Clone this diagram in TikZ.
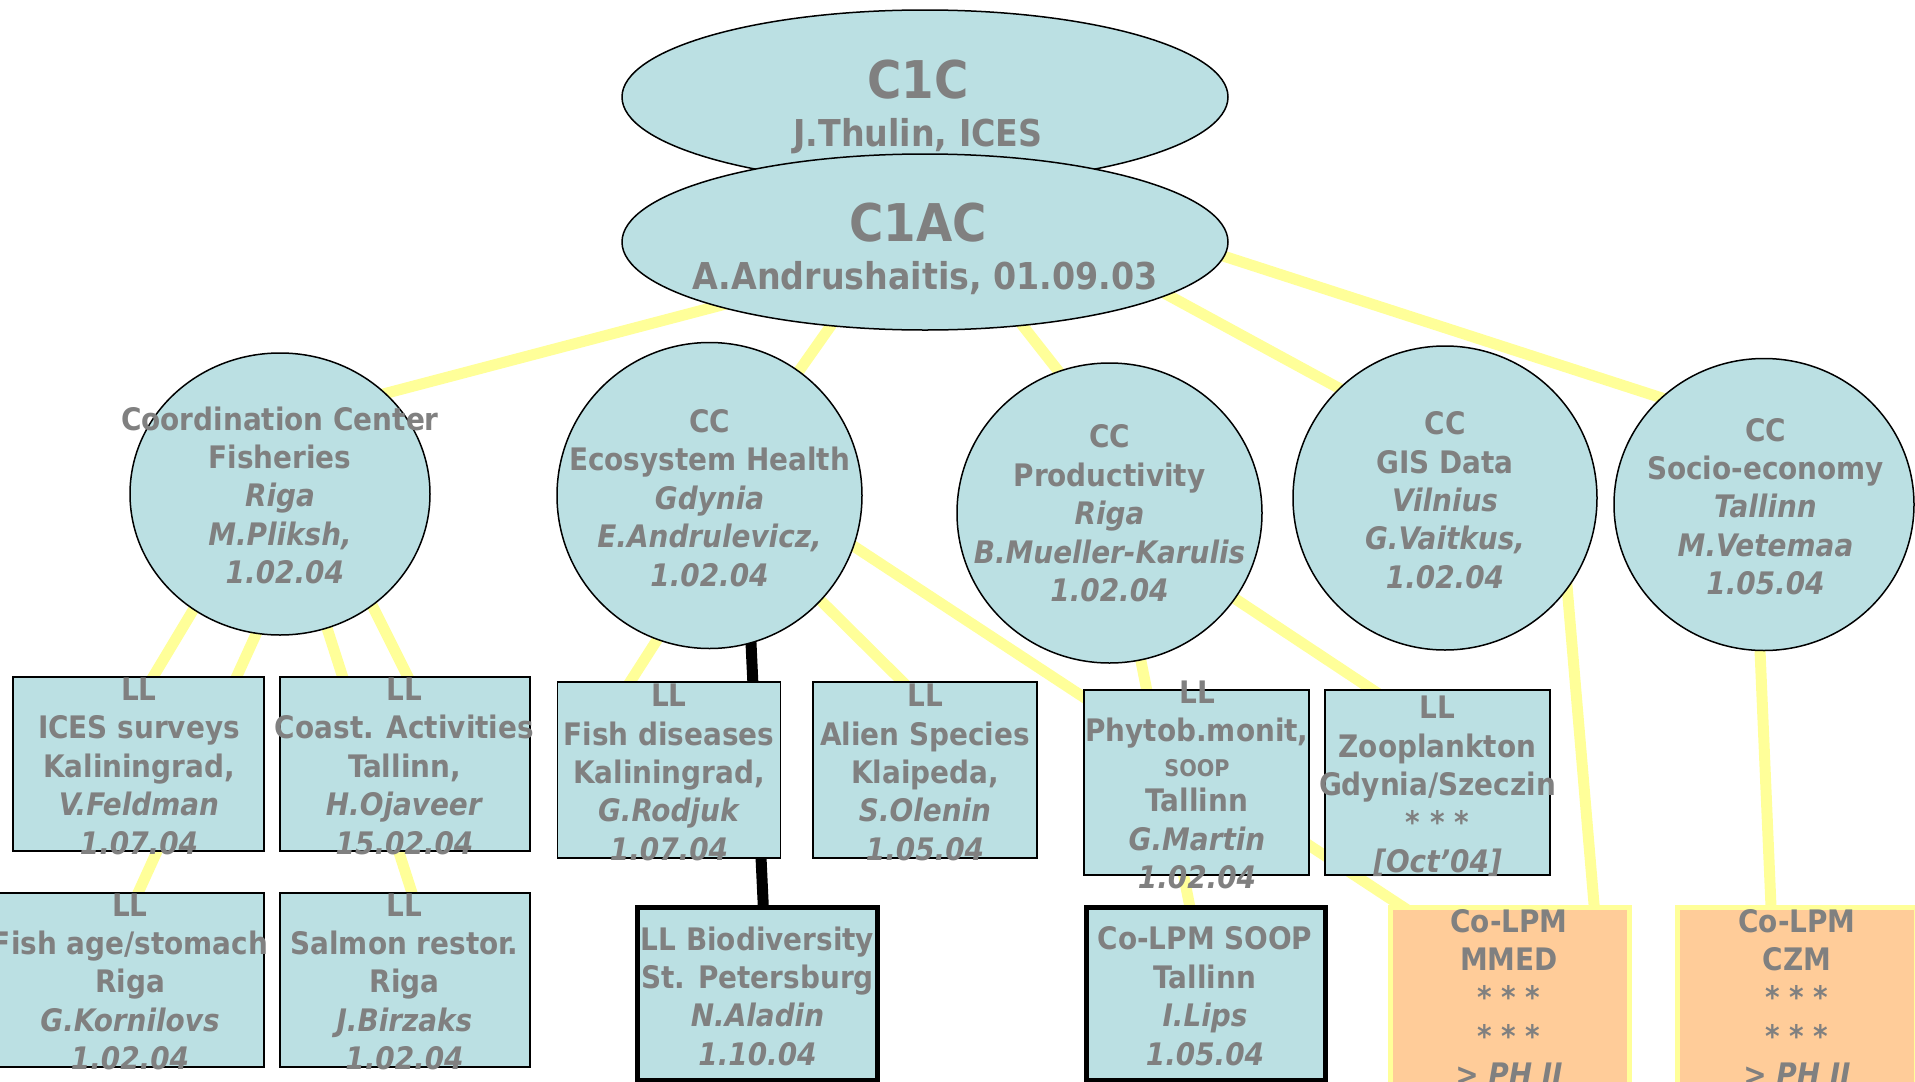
\documentclass[tikz,border=0pt]{standalone}
\usepackage{fontspec}
\setmainfont{DejaVu Sans Condensed}
\usetikzlibrary{shapes.geometric,calc,backgrounds}
\definecolor{cfill}{HTML}{BBE0E3}
\definecolor{orfill}{HTML}{FFCC99}
\definecolor{ylw}{HTML}{FFFF99}
\definecolor{tgray}{HTML}{808080}
\begin{document}
\begin{tikzpicture}[x=1pt,y=-1pt,
  cell/.style={draw=black,fill=cfill,inner sep=0pt,outer sep=0pt},
  oval/.style={cell,ellipse,line width=1.5pt},
  thinbox/.style={cell,rectangle,line width=1.8pt},
  thickbox/.style={cell,rectangle,line width=5pt},
  orbox/.style={rectangle,draw=ylw,fill=orfill,line width=5pt,inner sep=0pt,outer sep=0pt},
  link/.style={line width=11pt,draw=ylw},
  blink/.style={line width=11pt,draw=black},
  basetxt/.style={text=tgray,align=center,inner sep=0pt,
     execute at begin node={\rule{0pt}{1.03em}},
     execute at end node={\rule[-0.3em]{0pt}{0.3em}}},
  txt/.style={basetxt,font=\bfseries\fontsize{31}{38.4}\selectfont,yshift=-5pt},
  ttl/.style={basetxt,font=\bfseries\fontsize{52}{60}\selectfont},
  sub/.style={basetxt,font=\bfseries\fontsize{37}{44}\selectfont}]
\useasboundingbox (0,0) rectangle (1915,1082);
\clip (0,0) rectangle (1915,1082);

% top ellipses
\node[oval,minimum width=606pt,minimum height=174pt] (c1c) at (925,97) {};
\node[oval,minimum width=606pt,minimum height=176pt] (c1ac) at (925,242) {};

% coordination centres
\node[oval,minimum width=300pt,minimum height=282pt] (cc1) at (280,494) {};
\node[oval,minimum width=305pt,minimum height=306pt] (cc2) at (709.5,495.5) {};
\node[oval,minimum width=305pt,minimum height=300pt] (cc3) at (1109.5,513) {};
\node[oval,minimum width=304pt,minimum height=304pt] (cc4) at (1445,498) {};
\node[oval,minimum width=300pt,minimum height=292pt] (cc5) at (1764,504.5) {};

% LL boxes
\node[thinbox,minimum width=251pt,minimum height=174pt] (ices) at (138.5,764) {};
\node[thinbox,minimum width=250pt,minimum height=174pt] (coast) at (405,764) {};
\node[thinbox,minimum width=266pt,minimum height=174pt] (fishage) at (131,980) {};
\node[thinbox,minimum width=250pt,minimum height=174pt] (salmon) at (405,980) {};
\node[thinbox,minimum width=223pt,minimum height=176pt] (fishdis) at (669,770) {};
\node[thinbox,minimum width=224pt,minimum height=176pt] (alien) at (925,770) {};
\node[thinbox,minimum width=225pt,minimum height=185pt] (phyto) at (1196.5,782.5) {};
\node[thinbox,minimum width=225pt,minimum height=185pt] (zoo) at (1437.5,782.5) {};
\node[thickbox,minimum width=240pt,minimum height=172.5pt] (biodiv) at (757,993.75) {};
\node[thickbox,minimum width=239pt,minimum height=172.5pt] (soopbox) at (1205.5,993.75) {};
\node[orbox,minimum width=238.5pt,minimum height=192.5pt] (mmed) at (1509.75,1003.75) {};
\node[orbox,minimum width=238.5pt,minimum height=192.5pt] (czm) at (1796.75,1003.75) {};

% connectors (behind)
\begin{pgfonlayer}{background}
\draw[link] ($(c1ac)+(-125,42.5)$) -- ($(cc1)+(50,-86)$);
\draw[link] ($(c1ac)+(-81,65)$) -- ($(cc2)+(69,-95.5)$);
\draw[link] ($(c1ac)+(83,65)$) -- ($(cc3)+(-12.7,-93)$);
\draw[link] ($(c1ac)+(225,43.4)$) -- ($(cc4)+(-45,-76.6)$);
\draw[link] ($(c1ac)+(255,0)$) -- ($(cc5)+(-44,-87.7)$);
\draw[link] ($(cc1)+(-62.8,76)$) -- ($(ices)+(0.7,-64)$);
\draw[link] ($(cc1)+(-8.4,106)$) -- ($(fishage)+(-5.3,-60)$);
\draw[link] ($(cc1)+(38,106)$) -- ($(salmon)+(15.7,-60)$);
\draw[link] ($(cc1)+(74.5,76)$) -- ($(coast)+(14.5,-64)$);
\draw[link] ($(cc2)+(-33.3,114.5)$) -- ($(fishdis)+(-50.5,-70)$);
\draw[blink] ($(cc2)+(39.5,104.5)$) -- ($(biodiv)+(7.4,-63.75)$);
\draw[link] ($(cc2)+(90.5,84.5)$) -- ($(alien)+(-4,-70)$);
\draw[link] ($(cc2)+(110.5,28.5)$) -- ($(mmed)+(-71.75,-73.75)$);
\draw[link] ($(cc3)+(23.3,107)$) -- ($(soopbox)+(-11,-63.75)$);
\draw[link] ($(cc3)+(90.5,62.5)$) -- ($(zoo)+(-34.5,-72.5)$);
\draw[link] ($(cc4)+(119.8,62)$) -- ($(mmed)+(86.45,-73.75)$);
\draw[link] ($(cc5)+(-5.3,115.5)$) -- ($(czm)+(-24.75,-73.75)$);
\end{pgfonlayer}

% texts
\node[ttl] (t1a) at (918,79.2) {C1C};
\node[sub] (t1b) at (918,132.5) {J.Thulin, ICES};
\node[ttl] (t2a) at (918,222.8) {C1AC};
\node[sub] (t2b) at (925,275.8) {A.Andrushaitis, 01.09.03};

\node[txt] (tcc1) at (280,494.8) {Coordination Center\\Fisheries\\\textit{Riga}\\\textit{M.Pliksh,}\\\textit{\ 1.02.04}};
\node[txt] (tcc2) at (709.5,497.4) {CC\\Ecosystem Health\\\textit{Gdynia}\\\textit{E.Andrulevicz,}\\\textit{1.02.04}};
\node[txt] (tcc3) at (1109.5,512.9) {CC\\Productivity\\\textit{Riga}\\\textit{B.Mueller-Karulis}\\\textit{1.02.04}};
\node[txt] (tcc4) at (1445,499.6) {CC\\GIS Data\\\textit{Vilnius}\\\textit{G.Vaitkus,}\\\textit{1.02.04}};
\node[txt] (tcc5) at (1765.5,506.1) {CC\\Socio-economy\\\textit{Tallinn}\\\textit{M.Vetemaa}\\\textit{1.05.04}};

\node[txt] (tices) at (139,765.6) {LL\\ICES surveys\\Kaliningrad,\\\textit{V.Feldman}\\\textit{1.07.04}};
\node[txt] (tcoast) at (404.5,765.6) {LL\\Coast. Activities\\Tallinn,\\\textit{H.Ojaveer}\\\textit{15.02.04}};
\node[txt] (tfishage) at (130,981.3) {LL\\Fish age/stomach\\Riga\\\textit{G.Kornilovs}\\\textit{1.02.04}};
\node[txt] (tsalmon) at (404.5,981.3) {LL\\Salmon restor.\\Riga\\\textit{J.Birzaks}\\\textit{1.02.04}};
\node[txt] (tfishdis) at (669,771.9) {LL\\Fish diseases\\Kaliningrad,\\\textit{G.Rodjuk}\\\textit{1.07.04}};
\node[txt] (talien) at (925,771.9) {LL\\Alien Species\\Klaipeda,\\\textit{S.Olenin}\\\textit{1.05.04}};
\node[txt] (tphyto) at (1197,784.3) {LL\\Phytob.monit,\\[-3.5pt]{\fontsize{23}{28}\selectfont SOOP}\\[-3.5pt]Tallinn\\\textit{G.Martin}\\\textit{1.02.04}};
\node[txt] (tzoo) at (1437.5,783.8) {LL\\Zooplankton\\Gdynia/Szeczin\\{}* * *\\\textit{[Oct’04]}};
\node[txt] (tbio) at (757.5,995.6) {LL Biodiversity\\St. Petersburg\\\textit{N.Aladin}\\\textit{1.10.04}};
\node[txt] (tsoop) at (1205,995.6) {Co-LPM SOOP\\Tallinn\\\textit{I.Lips}\\\textit{1.05.04}};
\node[txt] (tmmed) at (1509,997) {Co-LPM\\MMED\\{}* * *\\{}* * *\\\textit{> PH II}};
\node[txt] (tczm) at (1797,997) {Co-LPM\\CZM\\{}* * *\\{}* * *\\\textit{> PH II}};
\end{tikzpicture}
\end{document}
